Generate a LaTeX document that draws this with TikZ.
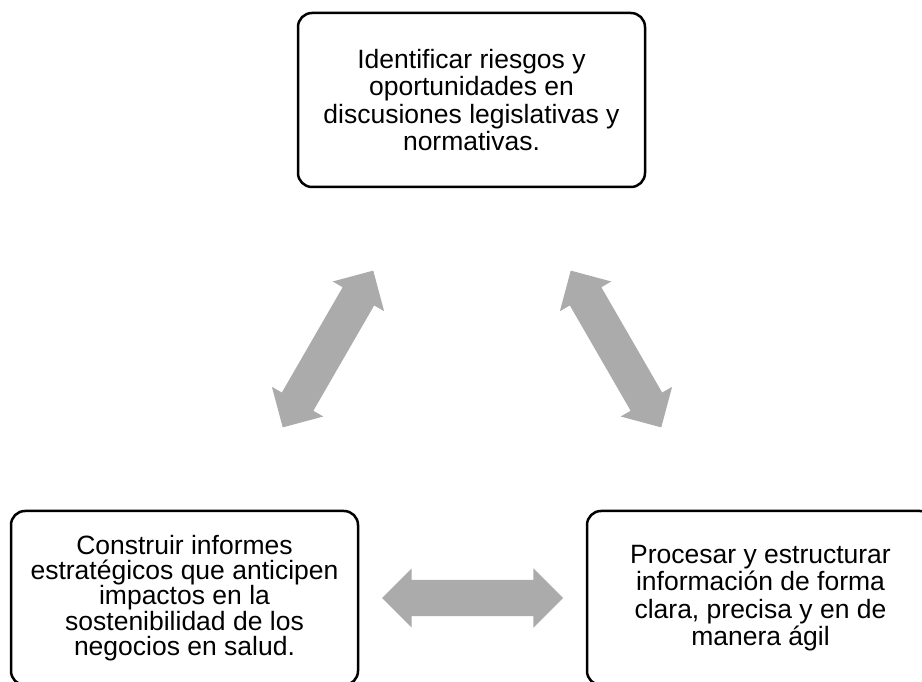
\documentclass[tikz,border=0pt]{standalone}
\usepackage{fontspec}
\setmainfont{Liberation Sans}
\usetikzlibrary{shapes.arrows,calc}
\definecolor{arrowgray}{RGB}{171,171,171}
\tikzset{
  box/.style={draw,shape=rectangle,rounded corners=14pt,line width=2.5pt,
    minimum width=347pt,minimum height=174pt,align=center,
    font=\fontsize{26.5}{27.5}\selectfont},
  fatarrow/.style={shape=double arrow,fill=arrowgray,draw=none,inner xsep=0pt,
    inner ysep=18pt,minimum height=181pt,double arrow head extend=11.5pt}
}
\begin{document}
\begin{tikzpicture}[x=1pt,y=1pt]
\clip (0,0) rectangle (922,681);
\node [box,name=n1] at (471.5,581){Identificar riesgos y\\oportunidades en\\discusiones legislativas y\\normativas.};
\node [box,name=n2,font=\fontsize{26.5}{24.5}\selectfont] at (184.5,83){Construir informes\\estratégicos que anticipen\\impactos en la\\sostenibilidad de los\\negocios en salud.};
\node [box,name=n3] at (760.5,83){Procesar y estructurar\\información de forma\\clara, precisa y en de\\manera ágil};
\node [fatarrow,rotate=60,name=a12] at ($(n1)!0.5!(n2)$){};
\node [fatarrow,rotate=-60,name=a13] at ($(n1)!0.5!(n3)$){};
\node [fatarrow,name=a23] at ($(n2)!0.5!(n3)$){};
\end{tikzpicture}
\end{document}
